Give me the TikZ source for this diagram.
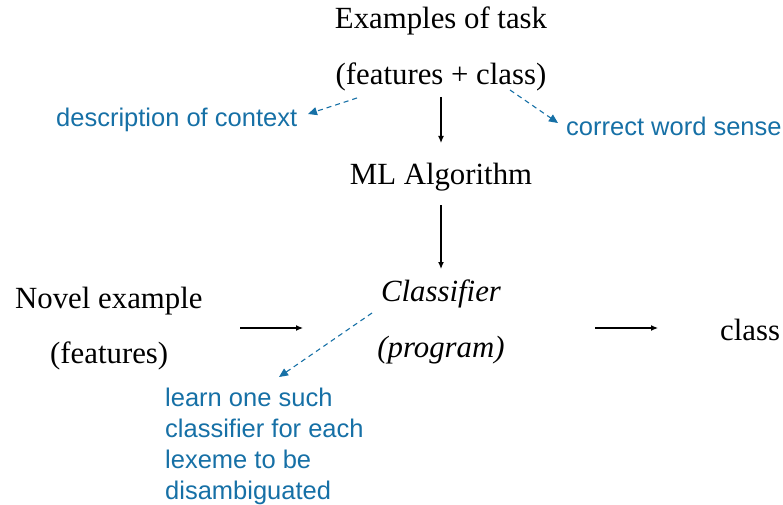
\documentclass[tikz,border=0pt]{standalone}
\usepackage{fontspec}
\setmainfont{Liberation Serif}
\newfontfamily\bluefont{Liberation Sans}
\usetikzlibrary{arrows.meta}
\definecolor{noteblue}{RGB}{22,112,166}
\tikzset{
  main/.style={inner sep=0pt, font=\fontsize{30.8}{36}\selectfont},
  note/.style={inner sep=0pt, text=noteblue, font=\bluefont\fontsize{25.5}{31}\selectfont},
  flow/.style={draw=black, line width=1.2pt, -{Latex[length=7pt,width=6pt]}},
  hint/.style={draw=noteblue, line width=1.1pt, dash pattern=on 5pt off 4pt, -{Triangle[length=9pt,width=8pt]}}
}
\begin{document}
\begin{tikzpicture}[x=1pt,y=-1pt]
\useasboundingbox (0,0) rectangle (783,505);
\node[main] (ex) at (441,21) {Examples of task};
\node[main] (fc) at (441,77) {(features + class)};
\node[note, anchor=west] (desc) at (56,120) {description of context};
\node[note, anchor=west] (corr) at (566,126) {correct word sense};
\node[main] (ml) at (441,177) {ML Algorithm};
\node[main] (cl) at (441,294) {\itshape Classifier};
\node[main] (pr) at (441,350) {\itshape (program)};
\node[main, anchor=west] (nov) at (15,301) {Novel example};
\node[main, anchor=west] (feat) at (50,356) {(features)};
\node[main, anchor=west] (cls) at (720,330) {class};
\node[note, anchor=north west, align=left] (learn) at (165,388) {learn one such\\classifier for each\\lexeme to be\\disambiguated};

\coordinate (a1s) at (441,97);  \coordinate (a1e) at (441,143);
\coordinate (a2s) at (441,205); \coordinate (a2e) at (441,269);
\coordinate (a3s) at (240,328); \coordinate (a3e) at (303,328);
\coordinate (a4s) at (595,328); \coordinate (a4e) at (658,328);
\draw[flow] (a1s) -- (a1e);
\draw[flow] (a2s) -- (a2e);
\draw[flow] (a3s) -- (a3e);
\draw[flow] (a4s) -- (a4e);

\coordinate (h1s) at (357,98);  \coordinate (h1e) at (308,114);
\coordinate (h2s) at (510,90);  \coordinate (h2e) at (558,123);
\coordinate (h3s) at (372,313); \coordinate (h3e) at (279,377);
\draw[hint] (h1s) -- (h1e);
\draw[hint] (h2s) -- (h2e);
\draw[hint] (h3s) -- (h3e);
\end{tikzpicture}
\end{document}
